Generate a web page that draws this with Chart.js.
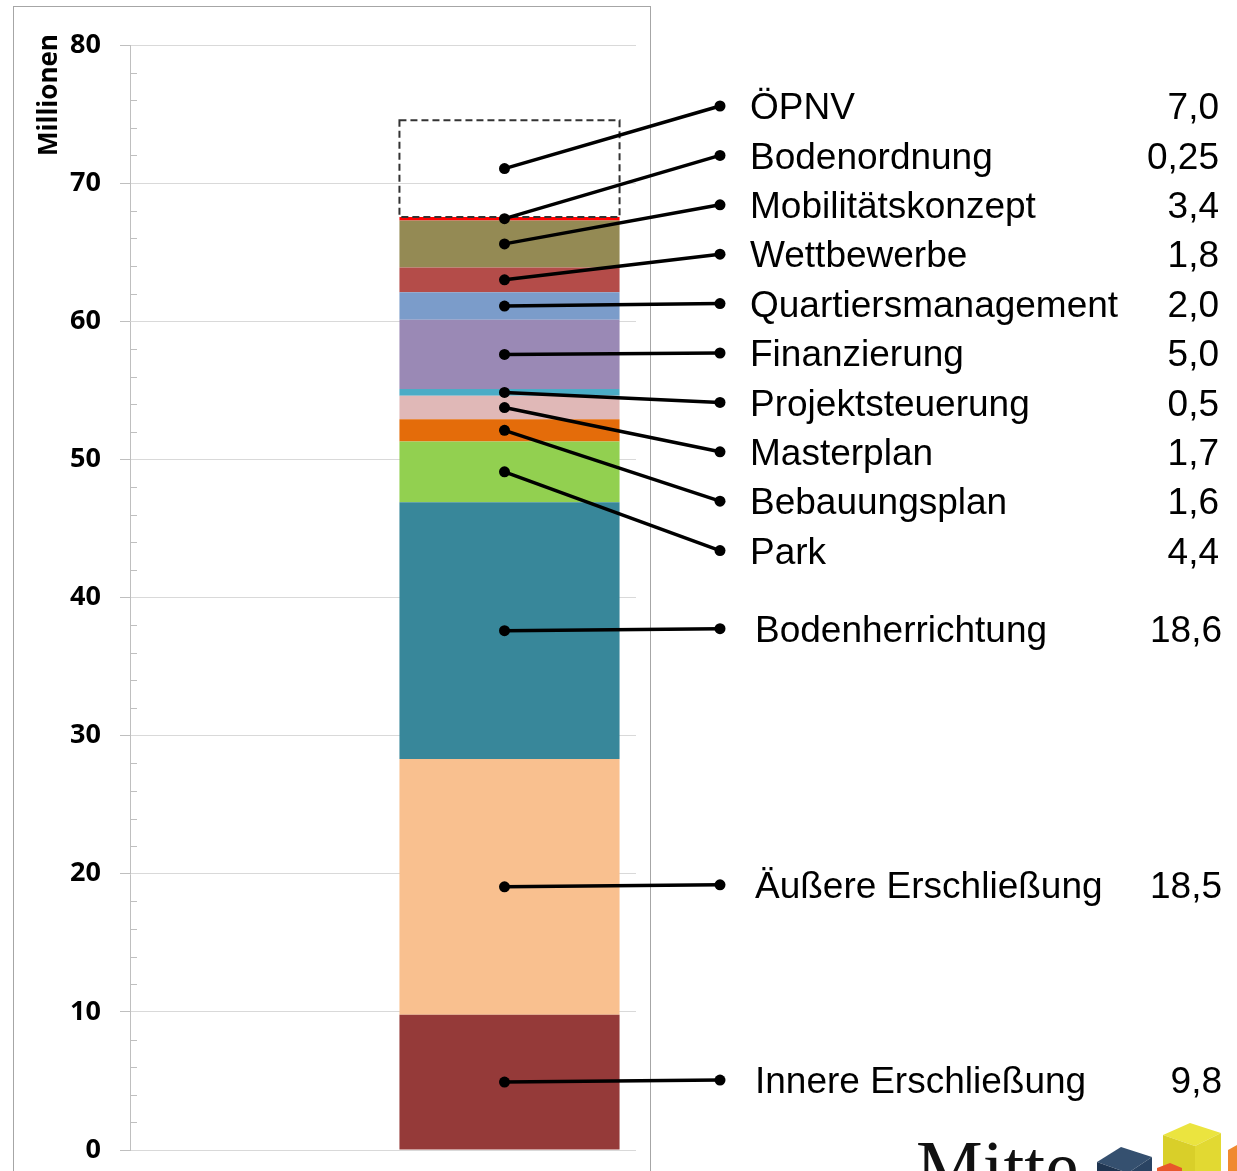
<!DOCTYPE html>
<html lang="de">
<head>
<meta charset="utf-8">
<title>Kosten der Maßnahmen</title>
<script src="https://cdn.jsdelivr.net/npm/chart.js@4/dist/chart.umd.min.js"></script>
<style>
  html, body { margin: 0; padding: 0; background: #fff; }
  #wrap { width: 1237px; height: 1171px; position: relative; overflow: hidden; }
</style>
</head>
<body>
<div id="wrap"><canvas id="c" width="1237" height="1171"></canvas></div>
<script>
// Two category slots; the stacked cost bar sits in the second one.
const categories = ['', ''];

// Cost items, bottom of the stack to the top (values in Mio. EUR).
const itemNames = [
  'Innere Erschließung', 'Äußere Erschließung', 'Bodenherrichtung', 'Park',
  'Bebauungsplan', 'Masterplan', 'Projektsteuerung', 'Finanzierung',
  'Quartiersmanagement', 'Wettbewerbe', 'Mobilitätskonzept', 'Bodenordnung', 'ÖPNV'
];
const itemValues = [9.8, 18.5, 18.6, 4.4, 1.6, 1.7, 0.5, 5.0, 2.0, 1.8, 3.4, 0.25, 7.0];

// Y axis range and tick spacing.
const yMin = 0;
const yMax = 80;
const yStep = 10;
const yMinorStep = 2;

// Segment fills (same order as itemNames); ÖPNV is an open, dashed box.
const itemColors = [
  '#953A39', '#F9C08F', '#38879A', '#92D050', '#E46C0A', '#E0B8B7',
  '#4BACC6', '#9A89B5', '#7B9CCA', '#B44C49', '#948A54', '#FF0000', 'rgba(255,255,255,0)'
];
const dashedItem = 'ÖPNV';

function fmtDe(v) {
  const s = (Math.round(v * 10) === v * 10) ? v.toFixed(1) : v.toFixed(2);
  return s.replace('.', ',');
}

const LABEL_FONT = '37px "Liberation Sans", Arial, sans-serif';

const decorPlugin = {
  id: 'decor',
  beforeDraw(chart) {
    const ctx = chart.ctx;
    ctx.save();
    ctx.fillStyle = '#ffffff';
    ctx.fillRect(0, 0, chart.width, chart.height);
    // chart frame
    ctx.strokeStyle = '#a6a6a6';
    ctx.lineWidth = 1;
    ctx.strokeRect(13.5, 6.5, 637, 1300);
    // axis title
    ctx.fillStyle = '#000';
    ctx.font = 'bold 26px "Open Sans", sans-serif';
    ctx.textAlign = 'center';
    ctx.textBaseline = 'middle';
    ctx.translate(50, 95);
    ctx.rotate(-Math.PI / 2);
    ctx.fillText('Millionen', 0, 0);
    ctx.restore();
  },
  afterDatasetsDraw(chart) {
    const ctx = chart.ctx;
    const yScale = chart.scales.y;
    const area = chart.chartArea;
    ctx.save();

    // minor tick marks inside the plot
    ctx.strokeStyle = '#bfbfbf';
    ctx.lineWidth = 1;
    for (let v = yMin; v <= yMax; v += yMinorStep) {
      if (v % yStep === 0) continue;
      const py = Math.round(yScale.getPixelForValue(v)) + 0.5;
      ctx.beginPath();
      ctx.moveTo(area.left, py);
      ctx.lineTo(area.left + 7, py);
      ctx.stroke();
    }

    // dashed outline of the open segment
    const di = itemNames.indexOf(dashedItem);
    const del = chart.getDatasetMeta(di).data[1];
    const half = del.width / 2;
    ctx.strokeStyle = '#333';
    ctx.lineWidth = 2;
    ctx.setLineDash([7, 4]);
    ctx.strokeRect(del.x - half, del.y, del.width, del.base - del.y);
    ctx.setLineDash([]);

    // leader lines and item labels
    const rowTop = 106;
    const rowStep = 49.4;
    const endX = 720;
    ctx.font = LABEL_FONT;
    ctx.textBaseline = 'middle';
    itemNames.forEach((name, k) => {
      const el = chart.getDatasetMeta(k).data[1];
      const yMid = (el.y + el.base) / 2;
      const x0 = el.x - 5;
      let yEnd, textX, valX;
      if (k >= 3) {
        yEnd = rowTop + (itemNames.length - 1 - k) * rowStep;
        textX = 750; valX = 1219;
      } else {
        yEnd = yMid - 2;
        textX = 755; valX = 1222;
      }
      ctx.strokeStyle = '#000';
      ctx.lineWidth = 3.5;
      ctx.beginPath();
      ctx.moveTo(x0, yMid);
      ctx.lineTo(endX, yEnd);
      ctx.stroke();
      ctx.fillStyle = '#000';
      ctx.beginPath(); ctx.arc(x0, yMid, 5.5, 0, Math.PI * 2); ctx.fill();
      ctx.beginPath(); ctx.arc(endX, yEnd, 5.5, 0, Math.PI * 2); ctx.fill();
      ctx.textAlign = 'left';
      ctx.fillText(name, textX, yEnd + 3);
      ctx.textAlign = 'right';
      ctx.fillText(fmtDe(itemValues[k]), valX, yEnd + 3);
    });
    ctx.restore();
  },
  afterDraw(chart) {
    // "Mitte" logo in the lower right corner
    const ctx = chart.ctx;
    ctx.save();
    ctx.fillStyle = '#111';
    ctx.font = '75px "Liberation Serif", serif';
    ctx.textAlign = 'left';
    ctx.textBaseline = 'alphabetic';
    ctx.fillText('Mitte', 916, 1192);
    const poly = (pts, color) => {
      ctx.fillStyle = color;
      ctx.beginPath();
      ctx.moveTo(pts[0][0], pts[0][1]);
      for (let i = 1; i < pts.length; i++) ctx.lineTo(pts[i][0], pts[i][1]);
      ctx.closePath();
      ctx.fill();
    };
    // navy cube
    poly([[1097, 1162], [1121, 1147], [1152, 1157], [1128, 1173]], '#35506f');
    poly([[1097, 1162], [1128, 1173], [1128, 1200], [1097, 1190]], '#1f3551');
    poly([[1128, 1173], [1152, 1157], [1152, 1190], [1128, 1200]], '#2a4463');
    // yellow cube
    poly([[1163, 1135], [1190, 1123], [1221, 1133], [1195, 1146]], '#ebe43f');
    poly([[1163, 1135], [1195, 1146], [1195, 1200], [1163, 1200]], '#d9cf29');
    poly([[1195, 1146], [1221, 1133], [1221, 1200], [1195, 1200]], '#e2d932');
    // orange pieces
    poly([[1157, 1168], [1170, 1163], [1182, 1168], [1182, 1180], [1157, 1180]], '#e8572b');
    poly([[1228, 1150], [1237, 1145], [1237, 1180], [1228, 1180]], '#f08a30');
    ctx.restore();
  }
};

const datasets = itemNames.map((name, k) => ({
  label: name,
  data: [null, itemValues[k]],
  backgroundColor: itemColors[k],
  borderWidth: 0,
  categoryPercentage: 1.0,
  barPercentage: 0.87
}));

new Chart(document.getElementById('c'), {
  type: 'bar',
  data: { labels: categories, datasets },
  plugins: [decorPlugin],
  options: {
    responsive: false,
    devicePixelRatio: 1,
    animation: false,
    layout: { padding: { left: 0, top: 45, right: 601, bottom: 21 } },
    plugins: { legend: { display: false }, tooltip: { enabled: false } },
    scales: {
      x: { stacked: true, display: false },
      y: {
        stacked: true,
        min: yMin,
        max: yMax,
        ticks: {
          stepSize: yStep,
          color: '#000',
          padding: 19,
          font: { family: '"Open Sans", sans-serif', size: 27, weight: 'bold' }
        },
        grid: { color: '#d9d9d9', tickColor: '#bfbfbf', tickLength: 10, lineWidth: 1 },
        border: { color: '#bfbfbf', width: 1 },
        afterFit(scale) {
          scale.width = 130;
          scale.paddingTop = 0;
          scale.paddingBottom = 0;
        }
      }
    }
  }
});
</script>
</body>
</html>
